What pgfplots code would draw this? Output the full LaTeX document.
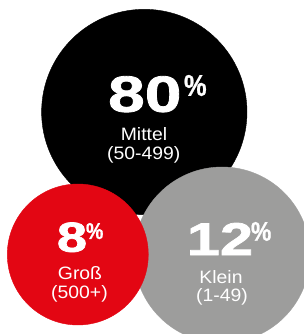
\documentclass[border=0pt]{standalone}
\usepackage{fontspec}
\setmainfont{Liberation Sans}
\newfontfamily\numfont[FakeStretch=1.3, FakeBold=1.6]{Liberation Sans Bold}
\newfontfamily\pctfont[FakeStretch=0.85, FakeBold=0.8]{Liberation Sans Bold}
\newfontfamily\labfont[FakeStretch=1.08]{Liberation Sans}
\usepackage{pgfplots}
\pgfplotsset{compat=1.18}
\definecolor{bred}{HTML}{E30613}
\definecolor{bgray}{HTML}{9D9D9C}
\tikzset{wt/.style={text=white, inner sep=0pt, outer sep=0pt}}
\newcommand{\numtxt}[2]{{\numfont\fontsize{#1}{#1}\selectfont #2}}
\newcommand{\pcttxt}[1]{{\pctfont\fontsize{#1}{#1}\selectfont\%}}
\newcommand{\labtxt}[1]{{\labfont\fontsize{18}{18}\selectfont #1}}
\begin{document}
\begin{tikzpicture}
\path[use as bounding box] (0,0) rectangle (304bp,334bp);
\begin{axis}[
  at={(0,0)}, anchor=south west,
  hide axis, scale only axis,
  x=1bp, y=1bp,
  xmin=0, xmax=304, ymin=0, ymax=334,
  clip=true, clip marker paths=true,
]
% Mittel (50-499): 80 %
\addplot[color=black, only marks, mark=*, mark size=102.7bp] coordinates {(144.3,222)};
% Klein (1-49): 12 %
\addplot[color=bgray, only marks, mark=*, mark size=88bp] coordinates {(222,79)};
% Gross (500+): 8 %
\addplot[color=bred, only marks, mark=*, mark size=70.5bp] coordinates {(77.8,79.5)};

\node[wt, anchor=base] at (axis cs:144.8,222.3) {\numtxt{51}{80}};
\node[wt, anchor=north west] at (axis cs:184,259) {\pcttxt{30}};
\node[wt, anchor=base] at (axis cs:144,194) {\labtxt{Mittel}};
\node[wt, anchor=base] at (axis cs:143.7,174.7) {\labtxt{(50-499)}};

\node[wt, anchor=base] at (axis cs:72,82.3) {\numtxt{42}{8}};
\node[wt, anchor=north west] at (axis cs:86,111) {\pcttxt{23}};
\node[wt, anchor=base] at (axis cs:80,54.7) {\labtxt{Groß}};
\node[wt, anchor=base] at (axis cs:79.5,35.5) {\labtxt{(500+)}};

\node[wt, anchor=base] at (axis cs:220,79) {\numtxt{46}{12}};
\node[wt, anchor=north west] at (axis cs:251,112) {\pcttxt{27}};
\node[wt, anchor=base] at (axis cs:221,50.7) {\labtxt{Klein}};
\node[wt, anchor=base] at (axis cs:222,32.3) {\labtxt{(1-49)}};
\end{axis}
\end{tikzpicture}
\end{document}
